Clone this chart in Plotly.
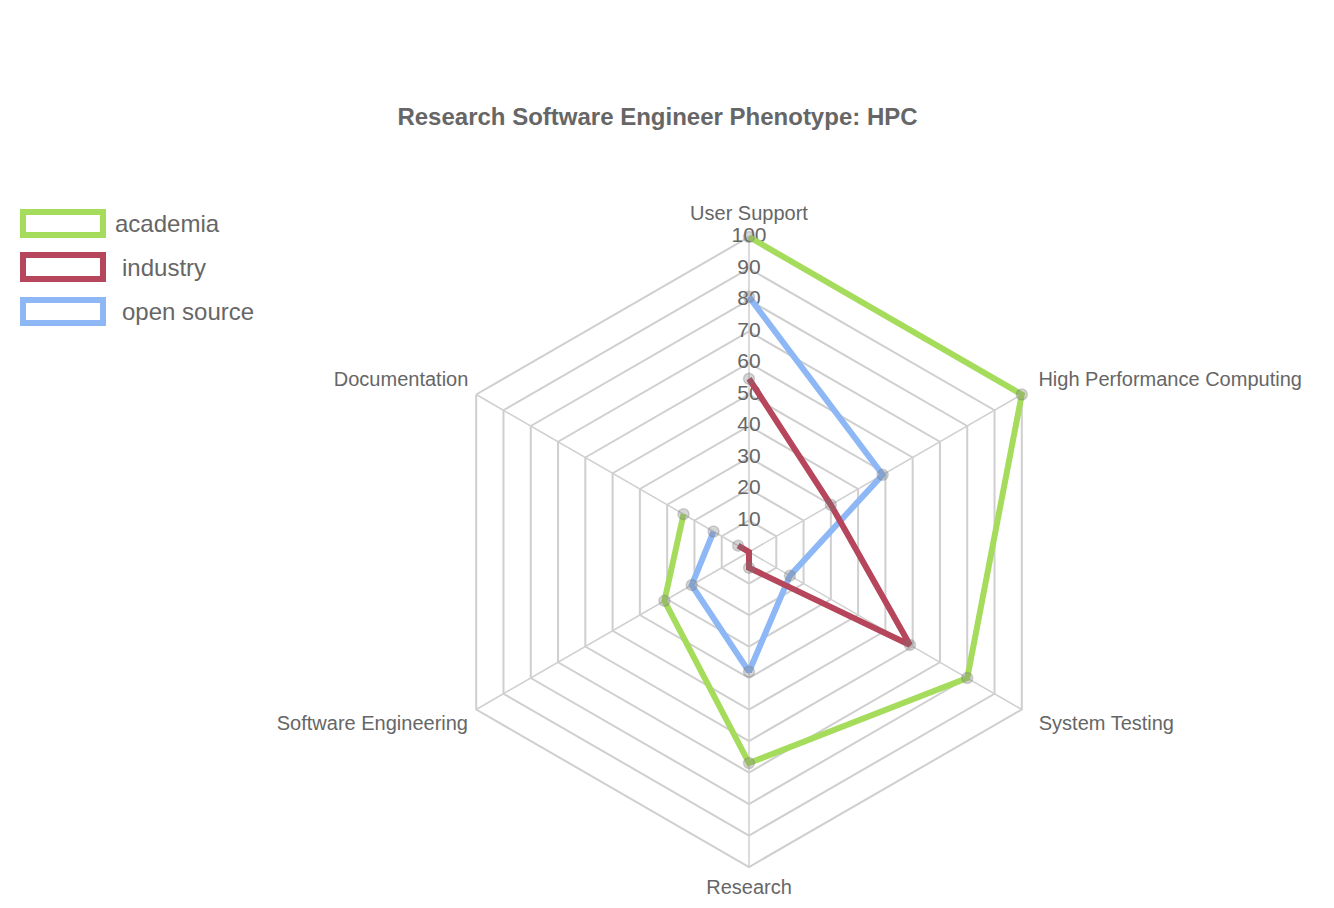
import plotly.graph_objects as go

W, H = 1334, 908

categories = ["User Support", "High Performance Computing", "System Testing",
              "Research", "Software Engineering", "Documentation"]
academia = [100, 100, 80, 67, 31, 24]
industry = [55, 30, 59, 5, 0, 4]
open_source = [81, 49, 15, 38, 21, 13]
tick_values = [10, 20, 30, 40, 50, 60, 70, 80, 90, 100]
tick_labels = [str(v) for v in tick_values]

series = [
    ("academia", academia, "#a6dc5c"),
    ("industry", industry, "#b5465b"),
    ("open source", open_source, "#8db7f5"),
]

FONT = "Helvetica Neue, Helvetica, Arial, Liberation Sans, sans-serif"
GRID = "#cfcfcf"
TXT = "#666666"
RMAX = 100
RANGE_MAX = 103   # a little headroom so lines on the outer ring are not clipped

fig = go.Figure()

# spokes from centre to the outer ring
spoke_r, spoke_t = [], []
for c in categories:
    spoke_r += [0, RMAX, None]
    spoke_t += [c, c, c]
fig.add_trace(go.Scatterpolar(
    r=spoke_r, theta=spoke_t, mode="lines", connectgaps=False,
    line=dict(color=GRID, width=1.5), showlegend=False, hoverinfo="skip"))

# radial tick labels centred on the User Support spoke (drawn under data)
fig.add_trace(go.Scatterpolar(
    r=tick_values, theta=[categories[0]] * len(tick_values),
    mode="text", text=tick_labels,
    textfont=dict(size=21, color=TXT, family=FONT),
    textposition="middle center", showlegend=False, hoverinfo="skip",
    cliponaxis=False))

# category labels around the outer ring
label_text = ["User Support",
              "High Performance Computing<br>&nbsp;",
              "&nbsp;<br>System Testing",
              "Research",
              "&nbsp;<br>Software Engineering",
              "Documentation<br>&nbsp;"]
label_pos = ["top center", "middle right", "middle right",
             "bottom center", "middle left", "middle left"]
label_pad = [17, 25, 19, 18, 5, 11]
label_r = [100, 100, 101.5, 100, 101.5, 100]
fig.add_trace(go.Scatterpolar(
    r=label_r, theta=categories,
    mode="markers+text", text=label_text, textposition=label_pos,
    marker=dict(size=label_pad, color="rgba(0,0,0,0)", opacity=0),
    textfont=dict(size=20, color=TXT, family=FONT),
    showlegend=False, hoverinfo="skip", cliponaxis=False))

# draw in reverse order so the first dataset is on top
for name, vals, col in reversed(series):
    fig.add_trace(go.Scatterpolar(
        r=vals, theta=categories, name=name,
        mode="lines+markers", fill="toself", fillcolor="rgba(0,0,0,0)",
        line=dict(color=col, width=6),
        marker=dict(size=11, color="rgba(120,120,120,0.3)",
                    line=dict(color="rgba(120,120,120,0.3)", width=1.5)),
        showlegend=False, cliponaxis=False))

cx, cy = 749, 552
R = 315 * RANGE_MAX / RMAX
fig.update_layout(
    width=W, height=H,
    margin=dict(l=0, r=0, t=0, b=0),
    paper_bgcolor="white", plot_bgcolor="white",
    font=dict(family=FONT, color=TXT),
    showlegend=False,
    polar=dict(
        domain=dict(x=[(cx - R) / W, (cx + R) / W],
                    y=[(H - cy - R) / H, (H - cy + R) / H]),
        bgcolor="rgba(0,0,0,0)",
        gridshape="linear",
        radialaxis=dict(range=[0, RANGE_MAX], tickvals=tick_values,
                        showticklabels=False,
                        ticks="", showline=False, gridcolor=GRID, gridwidth=1.5),
        angularaxis=dict(direction="clockwise", rotation=90,
                         categoryorder="array", categoryarray=categories,
                         showticklabels=False, showgrid=False,
                         ticks="", showline=False),
    ),
    title=dict(text="<b>Research Software Engineer Phenotype: HPC</b>",
               x=657.5 / W, xanchor="center", y=1 - 117 / H, yanchor="middle",
               yref="container", xref="container",
               font=dict(size=24, color=TXT, family=FONT)),
)

# manual legend (boxes + labels)
legend_rows = [(212, 235, 113, "academia"), (255, 279, 120, "industry"),
               (300, 323, 120, "open source")]
for (name, vals, col), (y0, y1, tx, lab) in zip(series, legend_rows):
    fig.add_shape(type="rect", xref="paper", yref="paper",
                  x0=23 / W, x1=103 / W, y0=1 - y1 / H, y1=1 - y0 / H,
                  line=dict(color=col, width=6), fillcolor="white")
    fig.add_annotation(xref="paper", yref="paper", x=tx / W, y=1 - (y0 + y1) / 2 / H,
                       xanchor="left", yanchor="middle", showarrow=False,
                       text=lab, font=dict(size=24, color=TXT, family=FONT))

fig.write_html("out.html")
